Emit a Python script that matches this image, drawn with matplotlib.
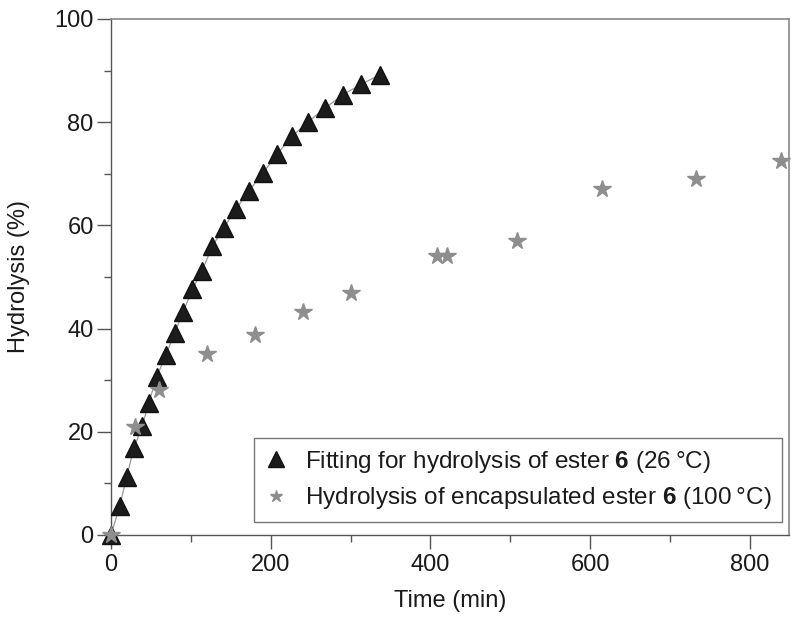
import matplotlib
matplotlib.use("Agg")
import matplotlib.pyplot as plt
from matplotlib.ticker import MultipleLocator

plt.rcParams['font.family'] = ['Liberation Sans', 'DejaVu Sans']
plt.rcParams['mathtext.fontset'] = 'custom'
plt.rcParams['mathtext.bf'] = 'Liberation Sans:bold'
plt.rcParams['mathtext.rm'] = 'Liberation Sans'

# Fitting data for hydrolysis of ester 6 (26 °C)
fit_time = [0, 11, 19.6, 28.7, 39.2, 47.1, 57.1, 68.7, 80, 90.4, 102, 114, 127,
            141, 156, 173, 190, 208, 227, 247, 268, 290, 313, 337]
fit_hydro = [0, 5.6, 11.3, 16.8, 21.2, 25.5, 30.6, 34.9, 39.2, 43.3, 47.6, 51.2,
             56.0, 59.4, 63.1, 66.7, 70.1, 73.8, 77.3, 80.1, 82.7, 85.3, 87.3, 89.2]

# Hydrolysis of encapsulated ester 6 (100 °C)
enc_time = [0, 30, 60, 120, 180, 240, 300, 408, 421, 509, 615, 733, 839]
enc_hydro = [0, 21.0, 28.1, 35.1, 38.8, 43.3, 46.8, 54.1, 54.1, 57.0, 67.1, 69.0, 72.5]

x_ticks = [0, 200, 400, 600, 800]
y_ticks = [0, 20, 40, 60, 80, 100]

fig = plt.figure(figsize=(8, 6.21), dpi=100)
ax = fig.add_axes([0.13875, 0.1385, 0.8475, 0.831])

ax.plot(fit_time, fit_hydro, '-', color='#9a9a9a', lw=0.9, zorder=2)
h1, = ax.plot(fit_time, fit_hydro, linestyle='none', marker='^', ms=13,
              color='#1c1c1c', mec='#111111', clip_on=False, zorder=4,
              label='Fitting for hydrolysis of ester $\\mathbf{6}$ (26\u2009°C)')
h2, = ax.plot(enc_time, enc_hydro, linestyle='none', marker='*', ms=13,
              color='#8e8e8e', mec='#8e8e8e', clip_on=False, zorder=5,
              label='Hydrolysis of encapsulated ester $\\mathbf{6}$ (100\u2009°C)')

ax.set_xlim(0, 849)
ax.set_ylim(0, 100)
ax.set_xticks(x_ticks)
ax.set_yticks(y_ticks)
ax.xaxis.set_minor_locator(MultipleLocator(100))
ax.yaxis.set_minor_locator(MultipleLocator(10))
ax.tick_params(which='major', direction='out', length=10, width=1, color='#555555',
               labelcolor='#1a1a1a', labelsize=17)
ax.tick_params(axis='y', which='major', pad=2.5)
ax.tick_params(axis='x', which='major', pad=4)
ax.tick_params(which='minor', direction='out', length=5, width=1, color='#555555')

for side in ['top', 'right']:
    ax.spines[side].set_color('#888888')
    ax.spines[side].set_linewidth(1.2)
for side in ['left', 'bottom']:
    ax.spines[side].set_color('#555555')
    ax.spines[side].set_linewidth(1.0)

ax.set_xlabel('Time (min)', fontsize=17, color='#1a1a1a', labelpad=10)
ax.set_ylabel('Hydrolysis (%)', fontsize=17, color='#1a1a1a')
ax.yaxis.set_label_coords(-0.12, 0.5)

leg = ax.legend(handles=[h1, h2], loc='lower right', bbox_to_anchor=(0.9897, 0.0252),
                borderaxespad=0, fontsize=17.5, frameon=True, fancybox=False,
                edgecolor='#555555', handlelength=0.9, handletextpad=0.72,
                borderpad=0.45, labelspacing=0.42, markerscale=0.85)
leg.get_frame().set_linewidth(1.0)
leg.legend_handles[1].set_markersize(9)
for t in leg.get_texts():
    t.set_color('#1a1a1a')

fig.savefig('out.png', dpi=100)
